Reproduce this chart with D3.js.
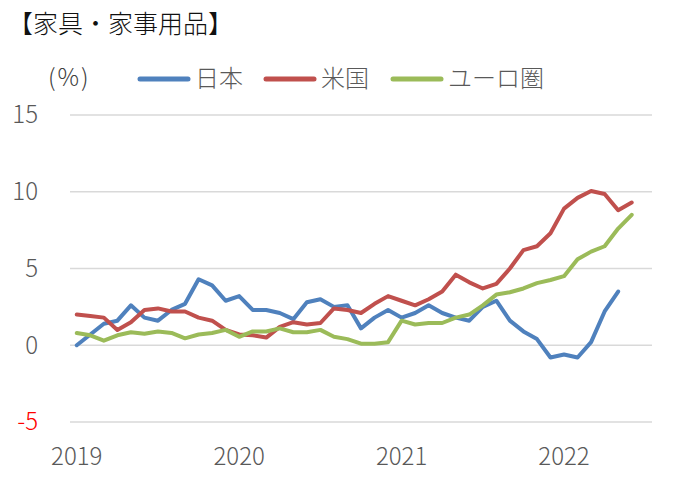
<!DOCTYPE html>
<html lang="ja">
<head>
<meta charset="UTF-8" />
<title>家具・家事用品</title>
<script src="https://d3js.org/d3.v7.min.js"></script>
<style>
  body { margin: 0; background: #fff; }
  text { font-family: "Noto Sans CJK JP", "Noto Sans", sans-serif; font-weight: 300; }
</style>
</head>
<body>
<div id="chart"></div>
<script>
// months Jan 2019 - Jul 2022 (last slot left empty, as in the original axis)
const months = d3.range(43).map(i => (2019 + Math.floor(i / 12)) + "-" + (i % 12 + 1));
const yearLabels = ["2019", "2020", "2021", "2022"];
const yTicks = [15, 10, 5, 0, -5];

const japan = [0.0, 0.7, 1.4, 1.6, 2.6, 1.8, 1.6, 2.3, 2.7, 4.3, 3.9, 2.9, 3.2, 2.3, 2.3, 2.1,
  1.7, 2.8, 3.0, 2.5, 2.6, 1.1, 1.8, 2.3, 1.8, 2.1, 2.6, 2.1, 1.8, 1.6, 2.5, 2.9, 1.6, 0.9,
  0.4, -0.8, -0.6, -0.8, 0.2, 2.2, 3.5];
const us = [2.0, 1.9, 1.8, 1.0, 1.5, 2.3, 2.4, 2.2, 2.2, 1.8, 1.6, 1.0, 0.7, 0.65, 0.5, 1.2,
  1.5, 1.35, 1.45, 2.4, 2.3, 2.1, 2.7, 3.2, 2.9, 2.6, 3.0, 3.5, 4.6, 4.1, 3.7, 4.0, 5.0, 6.2,
  6.45, 7.3, 8.9, 9.6, 10.05, 9.85, 8.8, 9.3];
const euro = [0.8, 0.65, 0.3, 0.65, 0.85, 0.75, 0.9, 0.8, 0.45, 0.7, 0.8, 1.0, 0.55, 0.9, 0.9, 1.1,
  0.85, 0.85, 1.0, 0.55, 0.4, 0.1, 0.1, 0.2, 1.6, 1.35, 1.45, 1.45, 1.8, 2.0, 2.6, 3.3, 3.45, 3.7,
  4.05, 4.25, 4.5, 5.6, 6.1, 6.45, 7.6, 8.5];

const series = [
  { name: "日本", values: japan, color: "#4F81BD" },
  { name: "米国", values: us, color: "#C0504D" },
  { name: "ユーロ圏", values: euro, color: "#9BBB59" }
];

const W = 678, H = 479;
const svg = d3.select("#chart").append("svg")
  .attr("width", W).attr("height", H);

const x = d3.scaleBand().domain(months).range([70, 652]);
const y = d3.scaleLinear().domain([-5, 15]).range([422, 115]);
const cx = i => x(months[i]) + x.bandwidth() / 2;

// gridlines
svg.append("g")
  .selectAll("line")
  .data(yTicks)
  .join("line")
    .attr("x1", 70).attr("x2", 652)
    .attr("y1", d => y(d)).attr("y2", d => y(d))
    .attr("stroke", "#d9d9d9")
    .attr("stroke-width", 1.5);

// y axis labels
svg.append("g")
  .selectAll("text")
  .data(yTicks)
  .join("text")
    .attr("x", 38)
    .attr("y", d => y(d))
    .attr("dy", "0.35em")
    .attr("text-anchor", "end")
    .attr("font-size", 24)
    .attr("fill", d => d < 0 ? "#FF0000" : "#595959")
    .text(d => d);

// x axis labels at January of each year
svg.append("g")
  .selectAll("text")
  .data(yearLabels)
  .join("text")
    .attr("x", (d, i) => cx(i * 12))
    .attr("y", 465)
    .attr("text-anchor", "middle")
    .attr("font-size", 24)
    .attr("fill", "#595959")
    .text(d => d);

// lines
const line = d3.line()
  .x((d, i) => cx(i))
  .y(d => y(d));

svg.append("g")
  .selectAll("path")
  .data(series)
  .join("path")
    .attr("d", d => line(d.values))
    .attr("fill", "none")
    .attr("stroke", d => d.color)
    .attr("stroke-width", 4)
    .attr("stroke-linejoin", "round")
    .attr("stroke-linecap", "round");

// title and unit
svg.append("text")
  .attr("x", 8).attr("y", 33)
  .attr("font-size", 25)
  .attr("font-weight", 400)
  .attr("fill", "#111")
  .text("【家具・家事用品】");

svg.append("text")
  .attr("x", 48).attr("y", 86)
  .attr("font-size", 24)
  .attr("letter-spacing", 2)
  .attr("fill", "#404040")
  .text("(%)");

// legend
const legendX = [140, 266, 393];
const lg = svg.append("g")
  .selectAll("g")
  .data(series)
  .join("g")
    .attr("transform", (d, i) => "translate(" + legendX[i] + ",79)");
lg.append("line")
  .attr("x1", 0).attr("x2", 48)
  .attr("stroke", d => d.color)
  .attr("stroke-width", 5)
  .attr("stroke-linecap", "round");
lg.append("text")
  .attr("x", 55).attr("dy", "0.35em")
  .attr("font-size", 24)
  .attr("fill", "#595959")
  .text(d => d.name);
</script>
</body>
</html>
